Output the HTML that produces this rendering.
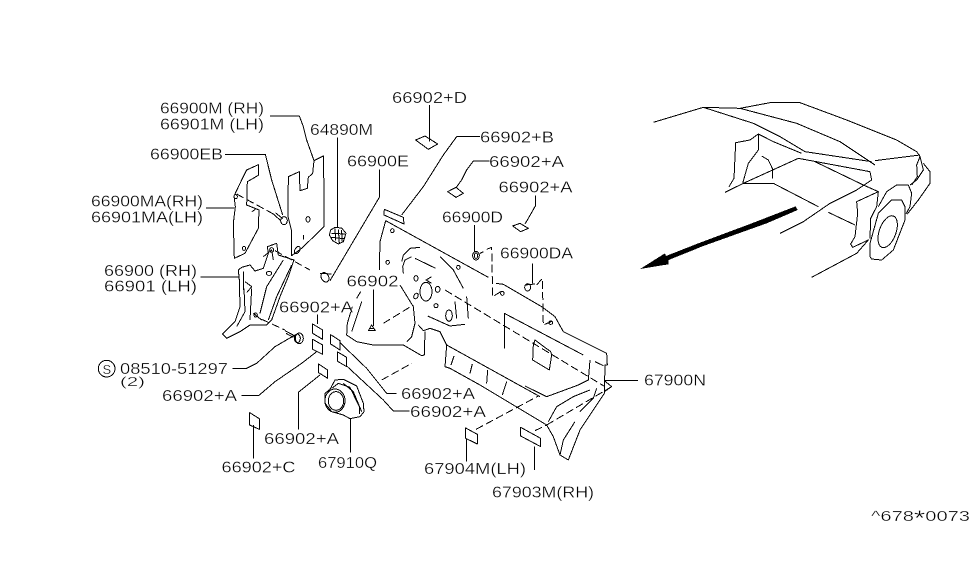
<!DOCTYPE html>
<html><head><meta charset="utf-8"><style>
html,body{margin:0;padding:0;background:#fff}
svg{display:block}
text{font-family:"Liberation Sans",sans-serif;font-size:15.5px;fill:#000;stroke:#fff;stroke-width:.3px}
.g path,.g ellipse,.g circle{fill:none;stroke:#000;stroke-width:3;stroke-linejoin:round}
.g .d{stroke-dasharray:24 10}
.g .f{fill:#000}
</style></head><body>
<svg width="975" height="566" viewBox="0 0 975 566" xmlns="http://www.w3.org/2000/svg" shape-rendering="crispEdges">
<rect width="975" height="566" fill="#fff"/>

<!-- left parts, zoom-1 coordinates -->
<g class="g" transform="translate(90,90) scale(.33333)">
<path d="M540 78H628L640 110L650 150L672 212"/>
<path d="M672 212L700 198L702 300V410L635 475L605 497L604 420L594 380L595 260L628 245L630 302L652 295L655 262L668 250Z"/>
<ellipse cx="654" cy="388" rx="6" ry="8"/><ellipse cx="622" cy="480" rx="7" ry="12" transform="rotate(30 622 480)"/>
<path d="M640 435V448"/>
<path d="M405 193H526L545 270L578 375"/>
<ellipse cx="582" cy="392" rx="10" ry="12"/><path d="M550 372L572 392M556 368L578 386"/>
<path class="d" d="M440 312L550 372"/>
<path d="M505 224L470 240L455 270L432 318L436 350L430 400L433 505L465 490L505 415L507 360L470 345L472 275L505 256Z"/>
<ellipse cx="437" cy="320" rx="5" ry="6"/><ellipse cx="462" cy="475" rx="5" ry="6"/><path d="M486 365L496 358"/>
<path d="M348 354H432M332 561H445"/>
<path d="M445 540L455 532L480 525L495 543L520 535L535 490L532 470L560 460L565 495L612 510L595 560L570 620L545 690L530 705L480 705L450 725L410 745L397 732L435 695L450 650L448 570Z"/>
<path d="M460 545V600M465 575L485 590L470 608M485 595L480 690M462 595L465 665L440 710M580 510L530 590L510 670M605 525L560 620L535 690M490 670L515 690M520 500L545 480L550 510"/>
<ellipse cx="537" cy="550" rx="8" ry="6"/><ellipse cx="545" cy="480" rx="6" ry="7"/><ellipse cx="497" cy="675" rx="5" ry="6"/>
<path class="d" d="M555 482L660 540"/>
<path d="M690 550L725 552"/><ellipse cx="705" cy="562" rx="11" ry="15" transform="rotate(-30 705 562)"/>
<path d="M868 238V322L720 572"/>
<path d="M742 142V412"/>
<path d="M735 412L755 414L768 430L760 455L745 462L728 452L718 435L722 420Z"/><path d="M735 415L737 452M745 418L748 460M755 420L756 455M725 430L765 432M722 442L762 446"/>
</g>

<!-- lower left, zoom-2 coordinates -->
<g class="g" transform="translate(90,300) scale(.33333)">
<path d="M668 72L698 90V118L668 100ZM668 118L698 135V163L668 148ZM722 104L750 122V150L722 132ZM743 156L770 172V200L743 184ZM686 192L713 210V235L686 218ZM479 338L508 356V388L479 375Z"/>
<path d="M683 44V72M428 205H470L500 190L555 140L615 105"/>
<path d="M585 92L615 108M588 100L610 112" stroke-width="6"/>
<ellipse cx="628" cy="115" rx="12" ry="16"/><ellipse cx="622" cy="115" rx="9" ry="13"/>
<path class="d" d="M515 58L585 90"/>
<path d="M455 286H507L555 245L635 190L680 155M625 388V277L690 225M490 475V375M781 458V355"/>
<path d="M705 280L720 268L735 240L760 238L800 258L820 310L822 335L810 350L780 356L760 345L725 335L705 310Z"/>
<path d="M725 265L745 250L780 262L808 320L808 342M760 250L790 275L815 335"/>
<ellipse cx="735" cy="302" rx="30" ry="35"/><ellipse cx="738" cy="303" rx="23" ry="28"/>
<path d="M750 128L830 205L890 280H920M770 198L880 300L910 333H958"/>
<circle cx="50" cy="206" r="25"/>
</g>

<!-- firewall, zoom-3 coordinates -->
<g class="g" transform="translate(340,190) scale(.33333)">
<path d="M133 58L190 82L192 102L132 75Z"/>
<path d="M137 92L120 155L118 240M137 92L445 262M468 280L490 283L605 350L645 380L670 425L800 490L802 525H795L793 610L760 660L720 720L685 810L660 795L640 740L620 705L495 630L420 585L330 535L315 530L320 465L300 425L270 415L250 422L235 405"/>
<path d="M255 425L253 495L245 497L190 465H100L50 455L20 435L22 400L37 350M35 425L65 335M50 325L62 305"/>
<path d="M180 285L220 350L225 400L215 440L200 455"/>
<path d="M240 172L210 175L190 195L185 215M215 200L195 210L188 230L190 250M225 205L287 235M300 200L340 240L370 295M380 320L385 385M345 335L350 385M275 260L258 270L275 280M263 378L330 408L375 403"/>
<ellipse cx="258" cy="305" rx="18" ry="28"/>
<ellipse cx="228" cy="265" rx="6" ry="8"/><ellipse cx="228" cy="318" rx="6" ry="9" transform="rotate(30 228 318)"/><ellipse cx="293" cy="298" rx="7" ry="9"/><ellipse cx="288" cy="347" rx="6" ry="6"/><ellipse cx="327" cy="377" rx="10" ry="17"/>
<ellipse cx="157" cy="122" rx="5" ry="6"/><ellipse cx="143" cy="217" rx="5" ry="6"/><ellipse cx="355" cy="232" rx="5" ry="6"/>
<path class="d" d="M315 300L795 590"/>
<path d="M493 475V370L730 495M765 515L790 527M750 510L745 570L715 585L620 620L555 588"/>
<path d="M320 465L600 620M342 498L333 525M397 522L390 550M443 540L440 580M500 575L487 615"/>
<path d="M585 450L632 485L635 495L628 540L578 510L580 465Z"/>
<path d="M625 695L650 650L700 620L750 600M770 595L760 625L720 665M705 695L670 750L660 795M793 572L815 590L793 605"/>
<path class="d" d="M620 705L815 590M408 718L595 618M125 570L215 520M585 722L620 705"/>
<path d="M793 572H894M377 714L412 733V762L377 745ZM542 712L602 745V770L542 738ZM379 745V815M583 770V840"/>
<path d="M100 298V408M85 422L95 405L106 422Z"/><path d="M90 415H102"/>
<path class="d" d="M130 400L220 345"/>
<path d="M403 105V185M420 190L430 185"/>
<ellipse cx="408" cy="197" rx="10" ry="13"/><ellipse cx="408" cy="197" rx="5" ry="8"/>
<path class="d" d="M440 178L455 172L458 320L490 300M590 285L607 265L610 405L640 392"/>
<ellipse cx="487" cy="310" rx="5" ry="6"/><ellipse cx="632" cy="398" rx="6" ry="5"/>
<path d="M577 220V280M555 285L585 282"/><ellipse cx="563" cy="292" rx="9" ry="11"/>
</g>

<!-- top pads, zoom-5 coordinates -->
<g class="g" transform="translate(380,80) scale(.33333)">
<path d="M148 75V185M107 180L135 168L173 192L145 208Z"/>
<path d="M300 170H230L190 225L130 320L65 405"/>
<path d="M329 243H280L260 270L245 300L228 323M203 335L228 322L250 340L228 352Z"/>
<path d="M466 347V378L445 415L435 432M398 438L420 430L445 445L422 455Z"/>
</g>

<!-- car, zoom-4 coordinates -->
<g class="g" transform="translate(630,90) scale(.33333)">
<path d="M70 97L220 52L330 55L420 38H510L650 90L800 150L860 185L870 200L860 225L862 260L845 285"/>
<path d="M220 52L370 100L450 140L525 185L725 215M330 55L500 100L630 155L735 225M735 212L870 195"/>
<path d="M880 220L900 245V280L865 330L832 372M870 200L880 240L860 270L840 285"/>
<path d="M745 350L770 305L800 285H835L845 310L840 350L828 372"/>
<path d="M720 500V460L745 370L785 330H815L825 350V390L790 480L755 510L725 507Z"/>
<ellipse cx="773" cy="425" rx="25" ry="50" transform="rotate(20 773 425)"/>
<path d="M505 205L720 245L725 270L680 300L600 340L520 395L450 430M505 205L340 280L285 307M340 280H430L565 350"/>
<path d="M555 215L700 285L745 305L740 350L722 385L720 445M595 367L675 405"/>
<path d="M745 305L680 335L683 370L675 440L662 462L668 472L715 450L680 490L545 562"/>
<path d="M297 290L312 265L317 158L360 150L385 132V180L355 220L338 280M385 132L430 155L515 190M395 198L415 210L427 235V265"/>
<path class="f" style="stroke:none" d="M497 349L503 360L410 400L220 468L116 510L115 523L30 537L105 490L108 498L210 458L360 402Z"/>
</g>

<!-- labels -->
<text x="160" y="113.5" textLength="104" lengthAdjust="spacingAndGlyphs">66900M (RH)</text>
<text x="160" y="129.5" textLength="104" lengthAdjust="spacingAndGlyphs">66901M (LH)</text>
<text x="310" y="135" textLength="63" lengthAdjust="spacingAndGlyphs">64890M</text>
<text x="150" y="159.5" textLength="73" lengthAdjust="spacingAndGlyphs">66900EB</text>
<text x="91" y="206.5" textLength="112" lengthAdjust="spacingAndGlyphs">66900MA(RH)</text>
<text x="91" y="222.5" textLength="112" lengthAdjust="spacingAndGlyphs">66901MA(LH)</text>
<text x="104" y="276" textLength="93" lengthAdjust="spacingAndGlyphs">66900 (RH)</text>
<text x="104" y="291.5" textLength="93" lengthAdjust="spacingAndGlyphs">66901 (LH)</text>
<text x="347" y="166.5" textLength="62" lengthAdjust="spacingAndGlyphs">66900E</text>
<text x="279" y="312.5" textLength="74" lengthAdjust="spacingAndGlyphs">66902+A</text>
<text x="346.5" y="286.5" textLength="52" lengthAdjust="spacingAndGlyphs">66902</text>
<text x="392" y="103" textLength="75" lengthAdjust="spacingAndGlyphs">66902+D</text>
<text x="480" y="142.5" textLength="74" lengthAdjust="spacingAndGlyphs">66902+B</text>
<text x="489" y="167" textLength="75" lengthAdjust="spacingAndGlyphs">66902+A</text>
<text x="498.5" y="192.5" textLength="74" lengthAdjust="spacingAndGlyphs">66902+A</text>
<text x="442" y="222.5" textLength="61" lengthAdjust="spacingAndGlyphs">66900D</text>
<text x="500" y="258.5" textLength="73" lengthAdjust="spacingAndGlyphs">66900DA</text>
<text x="644" y="385.5" textLength="62" lengthAdjust="spacingAndGlyphs">67900N</text>
<text x="102.5" y="374" style="font-size:13px">S</text>
<text x="120" y="374" textLength="108" lengthAdjust="spacingAndGlyphs">08510-51297</text>
<text x="120" y="386" textLength="25" lengthAdjust="spacingAndGlyphs" style="font-size:13px">(2)</text>
<text x="162" y="401" textLength="75" lengthAdjust="spacingAndGlyphs">66902+A</text>
<text x="264" y="444" textLength="75" lengthAdjust="spacingAndGlyphs">66902+A</text>
<text x="221.5" y="472.5" textLength="74" lengthAdjust="spacingAndGlyphs">66902+C</text>
<text x="318" y="468" textLength="59" lengthAdjust="spacingAndGlyphs">67910Q</text>
<text x="401" y="399" textLength="74" lengthAdjust="spacingAndGlyphs">66902+A</text>
<text x="410" y="417" textLength="76" lengthAdjust="spacingAndGlyphs">66902+A</text>
<text x="424" y="474" textLength="102" lengthAdjust="spacingAndGlyphs">67904M(LH)</text>
<text x="492" y="497.5" textLength="102" lengthAdjust="spacingAndGlyphs">67903M(RH)</text>
<text x="871" y="521" textLength="99" lengthAdjust="spacingAndGlyphs" style="font-size:14.5px">^678<tspan dy="4" style="font-size:21px">*</tspan><tspan dy="-4">0073</tspan></text>
</svg>
</body></html>
